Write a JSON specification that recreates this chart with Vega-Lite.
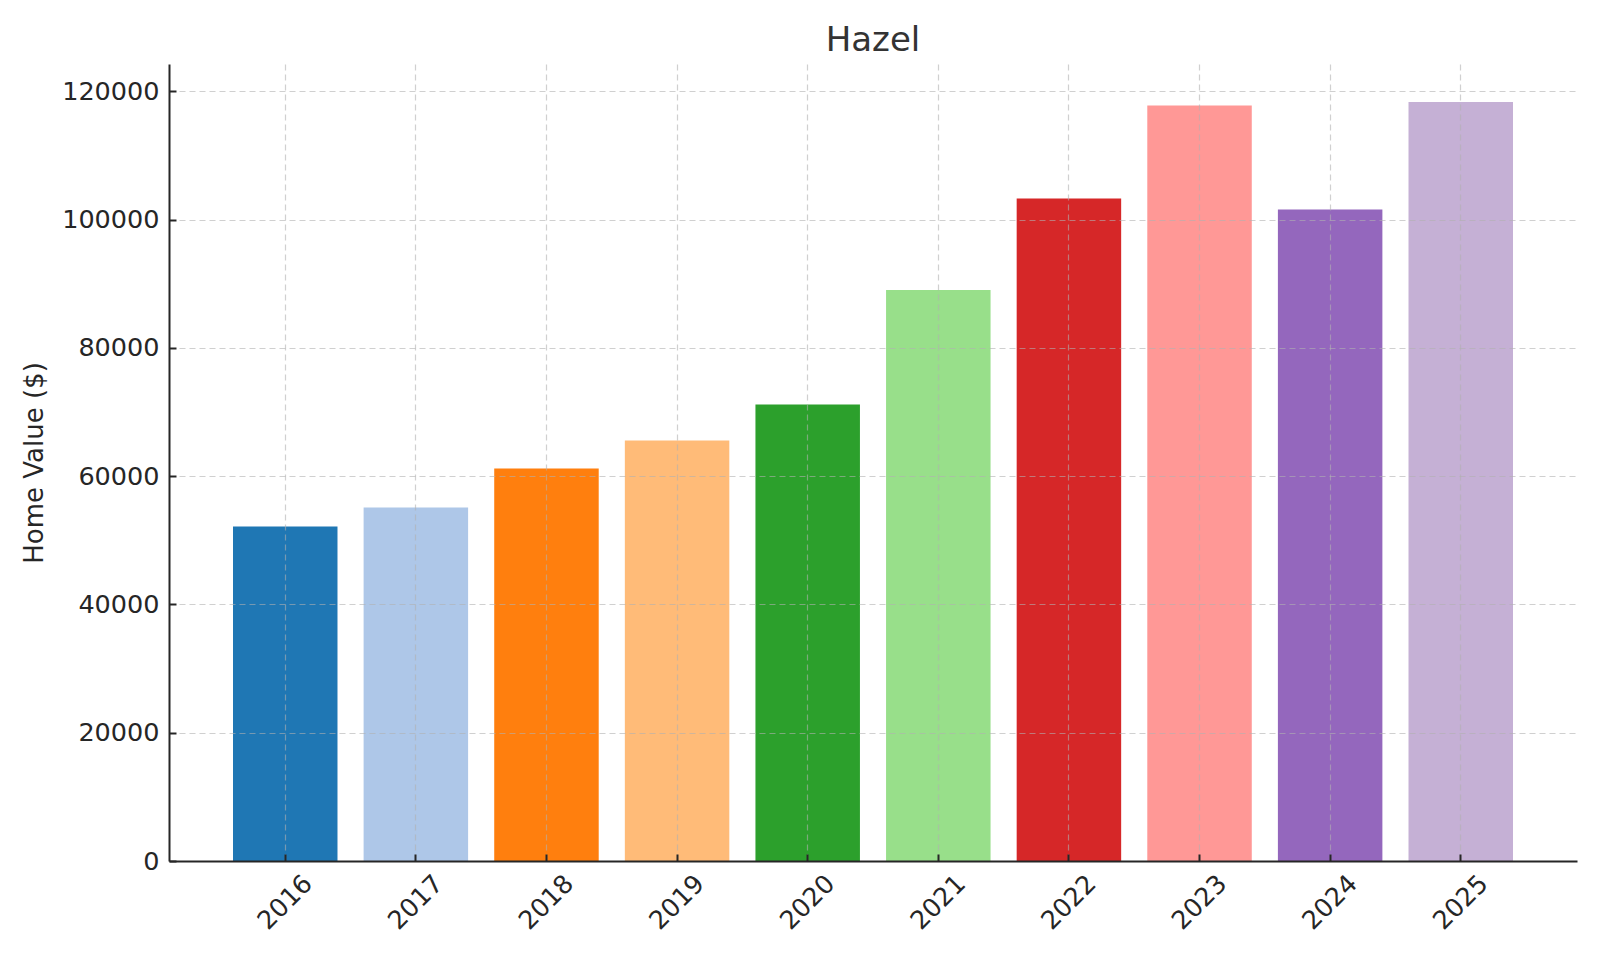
{
  "$schema": "https://vega.github.io/schema/vega-lite/v6.json",
  "autosize": "none",
  "padding": {"left": 169, "top": 64, "right": 23, "bottom": 99},
  "width": 1408,
  "height": 797,
  "background": "white",
  "title": {
    "text": "Hazel",
    "font": "DejaVu Sans",
    "fontSize": 34,
    "fontWeight": "normal",
    "color": "#333333",
    "frame": "group",
    "baseline": "alphabetic",
    "offset": 13,
    "dy": 34
  },
  "data": {
    "values": [
      {"year": "2016", "value": 52160},
      {"year": "2017", "value": 55120},
      {"year": "2018", "value": 61200},
      {"year": "2019", "value": 65560},
      {"year": "2020", "value": 71170},
      {"year": "2021", "value": 89050},
      {"year": "2022", "value": 103280},
      {"year": "2023", "value": 117800},
      {"year": "2024", "value": 101600},
      {"year": "2025", "value": 118350}
    ]
  },
  "mark": {"type": "bar"},
  "encoding": {
    "x": {
      "field": "year",
      "type": "ordinal",
      "scale": {"paddingInner": 0.2, "paddingOuter": 0.49},
      "axis": {
        "title": null,
        "labelAngle": -45,
        "labelAlign": "center",
        "labelBaseline": "middle",
        "labelPadding": 48,
        "tickSize": -7,
        "bandPosition": 0.5,
        "grid": true,
        "zindex": 1
      }
    },
    "y": {
      "field": "value",
      "type": "quantitative",
      "scale": {"domain": [0, 124270], "nice": false, "zero": true},
      "axis": {
        "title": "Home Value ($)",
        "values": [0, 20000, 40000, 60000, 80000, 100000, 120000],
        "format": "d",
        "tickSize": -7,
        "labelPadding": 17,
        "titlePadding": 14,
        "grid": true,
        "zindex": 1
      }
    },
    "color": {
      "field": "year",
      "type": "nominal",
      "legend": null,
      "scale": {
        "domain": ["2016", "2017", "2018", "2019", "2020", "2021", "2022", "2023", "2024", "2025"],
        "range": ["#1f77b4", "#aec7e8", "#ff7f0e", "#ffbb78", "#2ca02c", "#98df8a", "#d62728", "#ff9896", "#9467bd", "#c5b0d5"]
      }
    }
  },
  "config": {
    "font": "DejaVu Sans",
    "view": {"stroke": null},
    "axis": {
      "labelFont": "DejaVu Sans",
      "labelFontSize": 25.5,
      "labelColor": "#262626",
      "titleFont": "DejaVu Sans",
      "titleFontSize": 26,
      "titleFontWeight": "normal",
      "titleColor": "#262626",
      "domainColor": "#262626",
      "domainWidth": 2,
      "tickColor": "#262626",
      "tickWidth": 2,
      "gridColor": "#b0b0b0",
      "gridOpacity": 0.6,
      "gridWidth": 1.2,
      "gridDash": [6, 4]
    }
  }
}
